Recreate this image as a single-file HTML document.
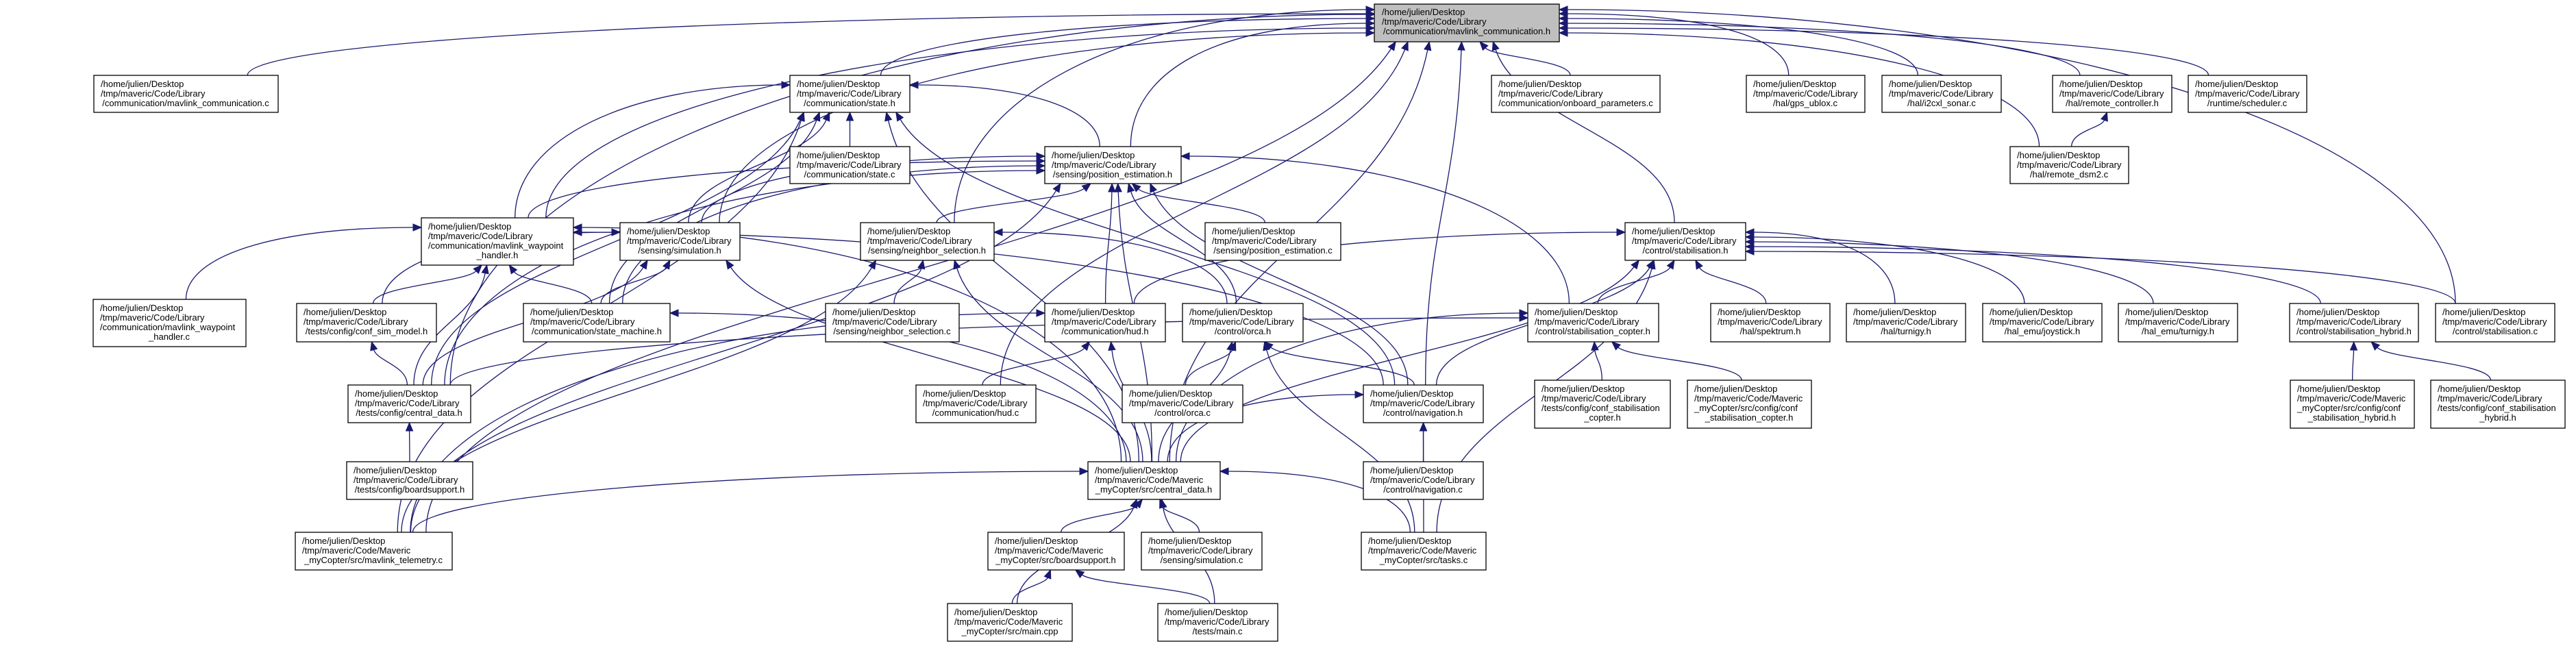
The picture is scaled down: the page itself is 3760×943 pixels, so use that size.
<!DOCTYPE html>
<html><head><meta charset="utf-8">
<style>
html,body{margin:0;padding:0;background:#fff;}
svg{display:block;}
text{font-family:"Liberation Sans",sans-serif;font-size:13px;fill:#000;}
rect{fill:#fff;stroke:#000;stroke-width:1.3;}
</style></head>
<body>
<svg id="s" width="3760" height="943" viewBox="0 0 3760 943" xmlns="http://www.w3.org/2000/svg">
<g id="edges" fill="none" stroke="#191970" stroke-width="1.3"></g>
<g id="arrows" fill="#191970" stroke="#191970" stroke-width="1"></g>
<g id="nodes">
<g id="MC"><rect x="2006" y="6" width="270" height="55" style="fill:#bfbfbf"/><text x="2017" y="22">/home/julien/Desktop</text><text x="2017" y="36">/tmp/maveric/Code/Library</text><text x="2141" y="50" text-anchor="middle">/communication/mavlink_communication.h</text></g>
<g id="mcc"><rect x="137" y="110" width="269" height="54"/><text x="147" y="127">/home/julien/Desktop</text><text x="147" y="141">/tmp/maveric/Code/Library</text><text x="271" y="155" text-anchor="middle">/communication/mavlink_communication.c</text></g>
<g id="stateh"><rect x="1153" y="110" width="175" height="54"/><text x="1163" y="127">/home/julien/Desktop</text><text x="1163" y="141">/tmp/maveric/Code/Library</text><text x="1240" y="155" text-anchor="middle">/communication/state.h</text></g>
<g id="statec"><rect x="1153" y="214" width="175" height="54"/><text x="1163" y="231">/home/julien/Desktop</text><text x="1163" y="245">/tmp/maveric/Code/Library</text><text x="1240" y="259" text-anchor="middle">/communication/state.c</text></g>
<g id="onb"><rect x="2177" y="110" width="246" height="54"/><text x="2187" y="127">/home/julien/Desktop</text><text x="2187" y="141">/tmp/maveric/Code/Library</text><text x="2300" y="155" text-anchor="middle">/communication/onboard_parameters.c</text></g>
<g id="gps"><rect x="2549" y="110" width="173" height="54"/><text x="2559" y="127">/home/julien/Desktop</text><text x="2559" y="141">/tmp/maveric/Code/Library</text><text x="2635" y="155" text-anchor="middle">/hal/gps_ublox.c</text></g>
<g id="i2c"><rect x="2747" y="110" width="174" height="54"/><text x="2757" y="127">/home/julien/Desktop</text><text x="2757" y="141">/tmp/maveric/Code/Library</text><text x="2834" y="155" text-anchor="middle">/hal/i2cxl_sonar.c</text></g>
<g id="rc"><rect x="2996" y="110" width="174" height="54"/><text x="3006" y="127">/home/julien/Desktop</text><text x="3006" y="141">/tmp/maveric/Code/Library</text><text x="3083" y="155" text-anchor="middle">/hal/remote_controller.h</text></g>
<g id="sched"><rect x="3194" y="110" width="173" height="54"/><text x="3204" y="127">/home/julien/Desktop</text><text x="3204" y="141">/tmp/maveric/Code/Library</text><text x="3280" y="155" text-anchor="middle">/runtime/scheduler.c</text></g>
<g id="dsm2"><rect x="2934" y="214" width="173" height="54"/><text x="2944" y="231">/home/julien/Desktop</text><text x="2944" y="245">/tmp/maveric/Code/Library</text><text x="3020" y="259" text-anchor="middle">/hal/remote_dsm2.c</text></g>
<g id="peh"><rect x="1525" y="214" width="199" height="54"/><text x="1535" y="231">/home/julien/Desktop</text><text x="1535" y="245">/tmp/maveric/Code/Library</text><text x="1624" y="259" text-anchor="middle">/sensing/position_estimation.h</text></g>
<g id="wph"><rect x="615" y="318" width="222" height="69"/><text x="625" y="335">/home/julien/Desktop</text><text x="625" y="349">/tmp/maveric/Code/Library</text><text x="625" y="363">/communication/mavlink_waypoint</text><text x="726" y="377" text-anchor="middle">_handler.h</text></g>
<g id="simh"><rect x="905" y="325" width="175" height="55"/><text x="915" y="342">/home/julien/Desktop</text><text x="915" y="356">/tmp/maveric/Code/Library</text><text x="992" y="370" text-anchor="middle">/sensing/simulation.h</text></g>
<g id="nsh"><rect x="1256" y="325" width="195" height="55"/><text x="1266" y="342">/home/julien/Desktop</text><text x="1266" y="356">/tmp/maveric/Code/Library</text><text x="1353" y="370" text-anchor="middle">/sensing/neighbor_selection.h</text></g>
<g id="pec"><rect x="1759" y="325" width="198" height="55"/><text x="1769" y="342">/home/julien/Desktop</text><text x="1769" y="356">/tmp/maveric/Code/Library</text><text x="1858" y="370" text-anchor="middle">/sensing/position_estimation.c</text></g>
<g id="stabh"><rect x="2372" y="325" width="176" height="55"/><text x="2382" y="342">/home/julien/Desktop</text><text x="2382" y="356">/tmp/maveric/Code/Library</text><text x="2460" y="370" text-anchor="middle">/control/stabilisation.h</text></g>
<g id="wpc"><rect x="136" y="437" width="223" height="69"/><text x="146" y="454">/home/julien/Desktop</text><text x="146" y="468">/tmp/maveric/Code/Library</text><text x="146" y="482">/communication/mavlink_waypoint</text><text x="247" y="496" text-anchor="middle">_handler.c</text></g>
<g id="csm"><rect x="433" y="443" width="204" height="56"/><text x="443" y="460">/home/julien/Desktop</text><text x="443" y="474">/tmp/maveric/Code/Library</text><text x="535" y="488" text-anchor="middle">/tests/config/conf_sim_model.h</text></g>
<g id="smh"><rect x="764" y="443" width="214" height="56"/><text x="774" y="460">/home/julien/Desktop</text><text x="774" y="474">/tmp/maveric/Code/Library</text><text x="871" y="488" text-anchor="middle">/communication/state_machine.h</text></g>
<g id="nsc"><rect x="1205" y="443" width="195" height="56"/><text x="1215" y="460">/home/julien/Desktop</text><text x="1215" y="474">/tmp/maveric/Code/Library</text><text x="1302" y="488" text-anchor="middle">/sensing/neighbor_selection.c</text></g>
<g id="hudh"><rect x="1525" y="443" width="176" height="56"/><text x="1535" y="460">/home/julien/Desktop</text><text x="1535" y="474">/tmp/maveric/Code/Library</text><text x="1613" y="488" text-anchor="middle">/communication/hud.h</text></g>
<g id="orcah"><rect x="1726" y="443" width="176" height="56"/><text x="1736" y="460">/home/julien/Desktop</text><text x="1736" y="474">/tmp/maveric/Code/Library</text><text x="1814" y="488" text-anchor="middle">/control/orca.h</text></g>
<g id="stcop"><rect x="2230" y="443" width="191" height="56"/><text x="2240" y="460">/home/julien/Desktop</text><text x="2240" y="474">/tmp/maveric/Code/Library</text><text x="2325" y="488" text-anchor="middle">/control/stabilisation_copter.h</text></g>
<g id="spek"><rect x="2497" y="443" width="174" height="56"/><text x="2507" y="460">/home/julien/Desktop</text><text x="2507" y="474">/tmp/maveric/Code/Library</text><text x="2584" y="488" text-anchor="middle">/hal/spektrum.h</text></g>
<g id="turn"><rect x="2695" y="443" width="174" height="56"/><text x="2705" y="460">/home/julien/Desktop</text><text x="2705" y="474">/tmp/maveric/Code/Library</text><text x="2782" y="488" text-anchor="middle">/hal/turnigy.h</text></g>
<g id="joy"><rect x="2894" y="443" width="174" height="56"/><text x="2904" y="460">/home/julien/Desktop</text><text x="2904" y="474">/tmp/maveric/Code/Library</text><text x="2981" y="488" text-anchor="middle">/hal_emu/joystick.h</text></g>
<g id="eturn"><rect x="3092" y="443" width="174" height="56"/><text x="3102" y="460">/home/julien/Desktop</text><text x="3102" y="474">/tmp/maveric/Code/Library</text><text x="3179" y="488" text-anchor="middle">/hal_emu/turnigy.h</text></g>
<g id="shyb"><rect x="3342" y="443" width="188" height="56"/><text x="3352" y="460">/home/julien/Desktop</text><text x="3352" y="474">/tmp/maveric/Code/Library</text><text x="3436" y="488" text-anchor="middle">/control/stabilisation_hybrid.h</text></g>
<g id="stabc"><rect x="3555" y="443" width="174" height="56"/><text x="3565" y="460">/home/julien/Desktop</text><text x="3565" y="474">/tmp/maveric/Code/Library</text><text x="3642" y="488" text-anchor="middle">/control/stabilisation.c</text></g>
<g id="tcd"><rect x="508" y="562" width="179" height="55"/><text x="518" y="579">/home/julien/Desktop</text><text x="518" y="593">/tmp/maveric/Code/Library</text><text x="597" y="607" text-anchor="middle">/tests/config/central_data.h</text></g>
<g id="hudc"><rect x="1337" y="562" width="175" height="55"/><text x="1347" y="579">/home/julien/Desktop</text><text x="1347" y="593">/tmp/maveric/Code/Library</text><text x="1424" y="607" text-anchor="middle">/communication/hud.c</text></g>
<g id="orcac"><rect x="1638" y="562" width="176" height="55"/><text x="1648" y="579">/home/julien/Desktop</text><text x="1648" y="593">/tmp/maveric/Code/Library</text><text x="1726" y="607" text-anchor="middle">/control/orca.c</text></g>
<g id="navh"><rect x="1990" y="562" width="175" height="55"/><text x="2000" y="579">/home/julien/Desktop</text><text x="2000" y="593">/tmp/maveric/Code/Library</text><text x="2077" y="607" text-anchor="middle">/control/navigation.h</text></g>
<g id="tccop"><rect x="2240" y="555" width="198" height="70"/><text x="2250" y="572">/home/julien/Desktop</text><text x="2250" y="586">/tmp/maveric/Code/Library</text><text x="2250" y="600">/tests/config/conf_stabilisation</text><text x="2339" y="614" text-anchor="middle">_copter.h</text></g>
<g id="mccop"><rect x="2463" y="555" width="181" height="70"/><text x="2473" y="572">/home/julien/Desktop</text><text x="2473" y="586">/tmp/maveric/Code/Maveric</text><text x="2473" y="600">_myCopter/src/config/conf</text><text x="2553" y="614" text-anchor="middle">_stabilisation_copter.h</text></g>
<g id="mchyb"><rect x="3343" y="555" width="181" height="70"/><text x="3353" y="572">/home/julien/Desktop</text><text x="3353" y="586">/tmp/maveric/Code/Maveric</text><text x="3353" y="600">_myCopter/src/config/conf</text><text x="3433" y="614" text-anchor="middle">_stabilisation_hybrid.h</text></g>
<g id="tchyb"><rect x="3548" y="555" width="196" height="70"/><text x="3558" y="572">/home/julien/Desktop</text><text x="3558" y="586">/tmp/maveric/Code/Library</text><text x="3558" y="600">/tests/config/conf_stabilisation</text><text x="3646" y="614" text-anchor="middle">_hybrid.h</text></g>
<g id="tbs"><rect x="506" y="674" width="184" height="55"/><text x="516" y="691">/home/julien/Desktop</text><text x="516" y="705">/tmp/maveric/Code/Library</text><text x="598" y="719" text-anchor="middle">/tests/config/boardsupport.h</text></g>
<g id="cd"><rect x="1588" y="674" width="193" height="55"/><text x="1598" y="691">/home/julien/Desktop</text><text x="1598" y="705">/tmp/maveric/Code/Maveric</text><text x="1684" y="719" text-anchor="middle">_myCopter/src/central_data.h</text></g>
<g id="navc"><rect x="1990" y="674" width="175" height="55"/><text x="2000" y="691">/home/julien/Desktop</text><text x="2000" y="705">/tmp/maveric/Code/Library</text><text x="2077" y="719" text-anchor="middle">/control/navigation.c</text></g>
<g id="tel"><rect x="431" y="777" width="229" height="55"/><text x="441" y="794">/home/julien/Desktop</text><text x="441" y="808">/tmp/maveric/Code/Maveric</text><text x="545" y="822" text-anchor="middle">_myCopter/src/mavlink_telemetry.c</text></g>
<g id="mbs"><rect x="1442" y="777" width="199" height="55"/><text x="1452" y="794">/home/julien/Desktop</text><text x="1452" y="808">/tmp/maveric/Code/Maveric</text><text x="1541" y="822" text-anchor="middle">_myCopter/src/boardsupport.h</text></g>
<g id="simc"><rect x="1666" y="777" width="176" height="55"/><text x="1676" y="794">/home/julien/Desktop</text><text x="1676" y="808">/tmp/maveric/Code/Library</text><text x="1754" y="822" text-anchor="middle">/sensing/simulation.c</text></g>
<g id="tasks"><rect x="1987" y="777" width="182" height="55"/><text x="1997" y="794">/home/julien/Desktop</text><text x="1997" y="808">/tmp/maveric/Code/Maveric</text><text x="2078" y="822" text-anchor="middle">_myCopter/src/tasks.c</text></g>
<g id="maincpp"><rect x="1383" y="881" width="182" height="55"/><text x="1393" y="898">/home/julien/Desktop</text><text x="1393" y="912">/tmp/maveric/Code/Maveric</text><text x="1474" y="926" text-anchor="middle">_myCopter/src/main.cpp</text></g>
<g id="mainc"><rect x="1690" y="881" width="175" height="55"/><text x="1700" y="898">/home/julien/Desktop</text><text x="1700" y="912">/tmp/maveric/Code/Library</text><text x="1777" y="926" text-anchor="middle">/tests/main.c</text></g>
</g>
</svg>
<script>
(function(){
var NS="http://www.w3.org/2000/svg";
function box(id){var r=document.querySelector('#'+id+' rect');return {x:+r.getAttribute('x'),y:+r.getAttribute('y'),w:+r.getAttribute('width'),h:+r.getAttribute('height')};}
var E=[
["mcc","MC"],["stateh","MC"],["onb","MC"],["gps","MC"],["i2c","MC"],["rc","MC"],["sched","MC"],["dsm2","MC"],["dsm2","rc"],
["peh","MC"],["wph","MC"],["simh","MC"],["nsh","MC"],["stabh","MC"],["stabc","MC"],["hudc","MC"],["navh","MC"],["tel","MC"],["tcd","MC"],["cd","MC"],
["statec","stateh"],["peh","stateh"],["wph","stateh"],["simh","stateh"],["smh","stateh"],["cd","stateh"],["navh","stateh"],["tel","stateh"],["tcd","stateh"],
["nsh","peh"],["pec","peh"],["hudh","peh"],["orcah","peh"],["navh","peh"],["stcop","peh"],["cd","peh"],["simh","peh"],["wph","peh"],["smh","peh"],["tcd","peh"],["tel","peh"],
["wpc","wph"],["csm","wph"],["smh","wph"],["tcd","wph"],["cd","wph"],["navh","wph"],
["csm","simh"],["smh","simh"],["cd","simh"],["tcd","simh"],
["nsc","nsh"],["orcah","nsh"],["cd","nsh"],["tel","nsh"],
["spek","stabh"],["turn","stabh"],["joy","stabh"],["eturn","stabh"],["shyb","stabh"],["stabc","stabh"],["stcop","stabh"],["navh","stabh"],["hudh","stabh"],["cd","stabh"],["tasks","stabh"],
["hudc","hudh"],["cd","hudh"],["tel","hudh"],
["orcac","orcah"],["cd","orcah"],["navh","orcah"],["tasks","orcah"],
["tccop","stcop"],["mccop","stcop"],["cd","stcop"],["tcd","stcop"],
["mchyb","shyb"],["tchyb","shyb"],
["tcd","csm"],["tbs","tcd"],["cd","smh"],
["navc","navh"],["cd","navh"],["tasks","navh"],
["tel","cd"],["mbs","cd"],["simc","cd"],["tasks","cd"],["maincpp","cd"],["mainc","cd"],
["maincpp","mbs"],["mainc","mbs"]
];
var eg=document.getElementById('edges'),ag=document.getElementById('arrows');
var sideCount={};
E.forEach(function(e){
 var c=box(e[0]),p=box(e[1]);
 var ccx=c.x+c.w/2,pcx=p.x+p.w/2;
 var dx=ccx-pcx;
 var sx=ccx+Math.max(-c.w/3,Math.min(c.w/3,-dx*0.05)),sy=c.y;
 var ex,ey,c1x,c1y,c2x,c2y,dy=sy-(p.y+p.h);
 if(Math.abs(dx)>2.2*Math.abs(dy)+150){
  // side entry
  var k=e[1]+(dx<0?'L':'R');sideCount[k]=(sideCount[k]||0)+1;
  var off=((sideCount[k]*7)%(p.h-14))+7;
  ey=p.y+off; ex=dx<0?p.x:p.x+p.w;
  c1x=sx; c1y=sy-(sy-ey)*0.6;
  c2x=ex+(dx<0?-1:1)*Math.abs(dx)*0.45; c2y=ey;
 } else {
  ex=pcx+Math.max(-p.w/2.6,Math.min(p.w/2.6,dx*0.12)); ey=p.y+p.h;
  c1x=sx; c1y=sy-dy*0.45; c2x=ex+(sx-ex)*0.15; c2y=ey+dy*0.45;
 }
 var ux=ex-c2x,uy=ey-c2y,L=Math.sqrt(ux*ux+uy*uy)||1;ux/=L;uy/=L;
 var bx=ex-ux*12,by=ey-uy*12;
 var path=document.createElementNS(NS,'path');
 path.setAttribute('d','M'+sx+','+sy+' C'+c1x+','+c1y+' '+c2x+','+c2y+' '+bx+','+by);
 eg.appendChild(path);
 var a=document.createElementNS(NS,'polygon');
 a.setAttribute('points',ex+','+ey+' '+(bx-uy*5)+','+(by+ux*5)+' '+(bx+uy*5)+','+(by-ux*5));
 ag.appendChild(a);
});
})();
</script>
</body></html>
